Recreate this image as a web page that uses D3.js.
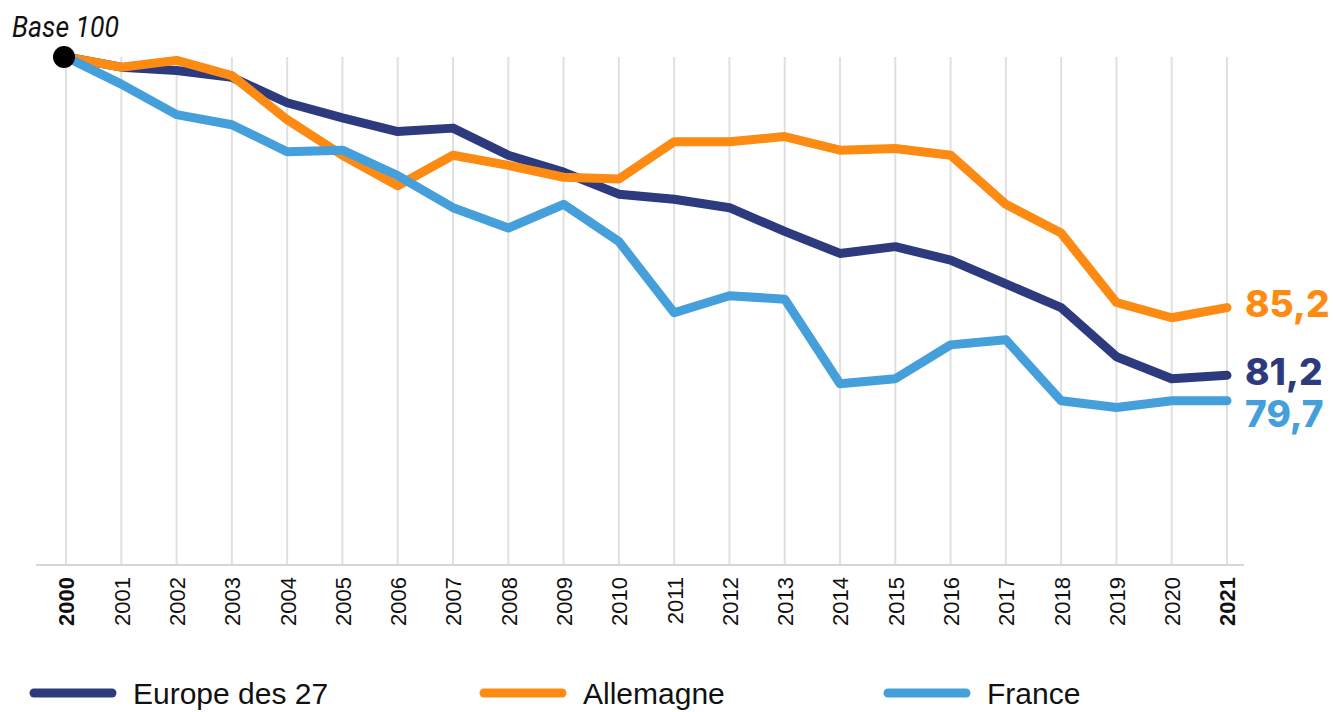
<!DOCTYPE html>
<html>
<head>
<meta charset="utf-8">
<script src="https://cdn.jsdelivr.net/npm/d3@7"></script>
<style>
  body { margin: 0; background: #fff; }
  svg { display: block; }
</style>
</head>
<body>
<div id="chart"></div>
<script>
const width = 1333;
const height = 712;

// data
const years = [2000, 2001, 2002, 2003, 2004, 2005, 2006, 2007, 2008, 2009, 2010,
  2011, 2012, 2013, 2014, 2015, 2016, 2017, 2018, 2019, 2020, 2021];
const europe = [100, 99.4, 99.2, 98.8, 97.3, 96.4, 95.6, 95.8, 94.2, 93.2, 91.9,
  91.6, 91.1, 89.7, 88.4, 88.8, 88.0, 86.6, 85.2, 82.3, 81.0, 81.2];
const allemagne = [100, 99.4, 99.8, 98.9, 96.3, 94.2, 92.4, 94.2, 93.6, 92.9, 92.8,
  95.0, 95.0, 95.3, 94.5, 94.6, 94.2, 91.3, 89.6, 85.5, 84.6, 85.2];
const france = [100, 98.4, 96.6, 96.0, 94.4, 94.5, 93.0, 91.1, 89.9, 91.3, 89.1,
  84.9, 85.9, 85.7, 80.7, 81.0, 83.0, 83.3, 79.7, 79.3, 79.7, 79.7];
const seriesNames = ["Europe des 27", "Allemagne", "France"];
const endLabels = ["81,2", "85,2", "79,7"];

const colors = ["#2d3a7e", "#fd8b13", "#449fdb"];
const labelShift = [-4, -4, 13];

const svg = d3.select("#chart").append("svg")
  .attr("width", width)
  .attr("height", height);

const x = d3.scaleLinear()
  .domain([2000, 2021])
  .range([66, 1227]);

const y = d3.scaleLinear()
  .domain([70, 100])
  .range([565, 57]);

// vertical gridlines
svg.append("g")
  .selectAll("line")
  .data(years)
  .enter().append("line")
    .attr("x1", d => x(d))
    .attr("x2", d => x(d))
    .attr("y1", y(100))
    .attr("y2", y(70))
    .attr("stroke", "#e0e0e0")
    .attr("stroke-width", 2)

// baseline
svg.append("line")
  .attr("x1", 36)
  .attr("x2", 1244)
  .attr("y1", y(70))
  .attr("y2", y(70))
  .attr("stroke", "#d6d6d6")
  .attr("stroke-width", 2)

// year labels
const xAxis = d3.axisBottom(x)
  .tickValues(years)
  .tickFormat(d3.format("d"))
  .tickSize(0);

const axisG = svg.append("g")
  .attr("transform", `translate(0,${y(70)})`)
  .call(xAxis);

axisG.select(".domain").remove();

axisG.selectAll("text")
  .attr("transform", "rotate(-90)")
  .attr("x", -12)
  .attr("y", 0)
  .attr("dy", "0.36em")
  .style("text-anchor", "end")
  .style("font-family", "'Liberation Sans', Arial, sans-serif")
  .style("font-size", "22px")
  .style("font-weight", d => (d === 2000 || d === 2021) ? "bold" : "normal")
  .style("fill", "#111")

// lines
const line = d3.line()
  .x((d, i) => x(years[i]))
  .y(d => y(d));

const allSeries = [europe, allemagne, france];

svg.append("g")
  .selectAll("path")
  .data(allSeries)
  .enter().append("path")
    .attr("d", d => line(d))
    .attr("fill", "none")
    .attr("stroke", (d, i) => colors[i])
    .attr("stroke-width", 9)
    .attr("stroke-linejoin", "round")
    .attr("stroke-linecap", "round")

// base point
svg.append("circle")
  .attr("cx", x(2000) - 2)
  .attr("cy", y(100))
  .attr("r", 11)
  .attr("fill", "#000")

svg.append("text")
  .attr("x", 12)
  .attr("y", 37)
  .attr("textLength", 107)
  .attr("lengthAdjust", "spacingAndGlyphs")
  .style("font-family", "Roboto, sans-serif")
  .style("font-style", "italic")
  .style("font-size", "30px")
  .style("fill", "#111")
  .text("Base 100")

// end labels
svg.append("g")
  .selectAll("text")
  .data(allSeries)
  .enter().append("text")
    .attr("x", 1245)
    .attr("y", (d, i) => y(d[d.length - 1]) + labelShift[i])
    .attr("dy", "0.36em")
    .style("font-family", "Inter, 'Noto Sans', sans-serif")
    .style("font-weight", 800)
    .style("font-size", "37px")
    .style("fill", (d, i) => colors[i])
    .text((d, i) => endLabels[i])

// legend
const legendX = [30, 480, 884];
const legend = svg.append("g")
  .selectAll("g")
  .data(seriesNames)
  .enter().append("g")
    .attr("transform", (d, i) => `translate(${legendX[i]},693)`)

legend.append("line")
  .attr("x1", 4)
  .attr("x2", 82)
  .attr("y1", 0)
  .attr("y2", 0)
  .attr("stroke", (d, i) => colors[i])
  .attr("stroke-width", 9)
  .attr("stroke-linecap", "round")

legend.append("text")
  .attr("x", 103)
  .attr("y", 0)
  .attr("dy", "0.36em")
  .style("font-family", "'Liberation Sans', Arial, sans-serif")
  .style("font-size", "30px")
  .style("fill", "#111")
  .text(d => d)
</script>
</body>
</html>
